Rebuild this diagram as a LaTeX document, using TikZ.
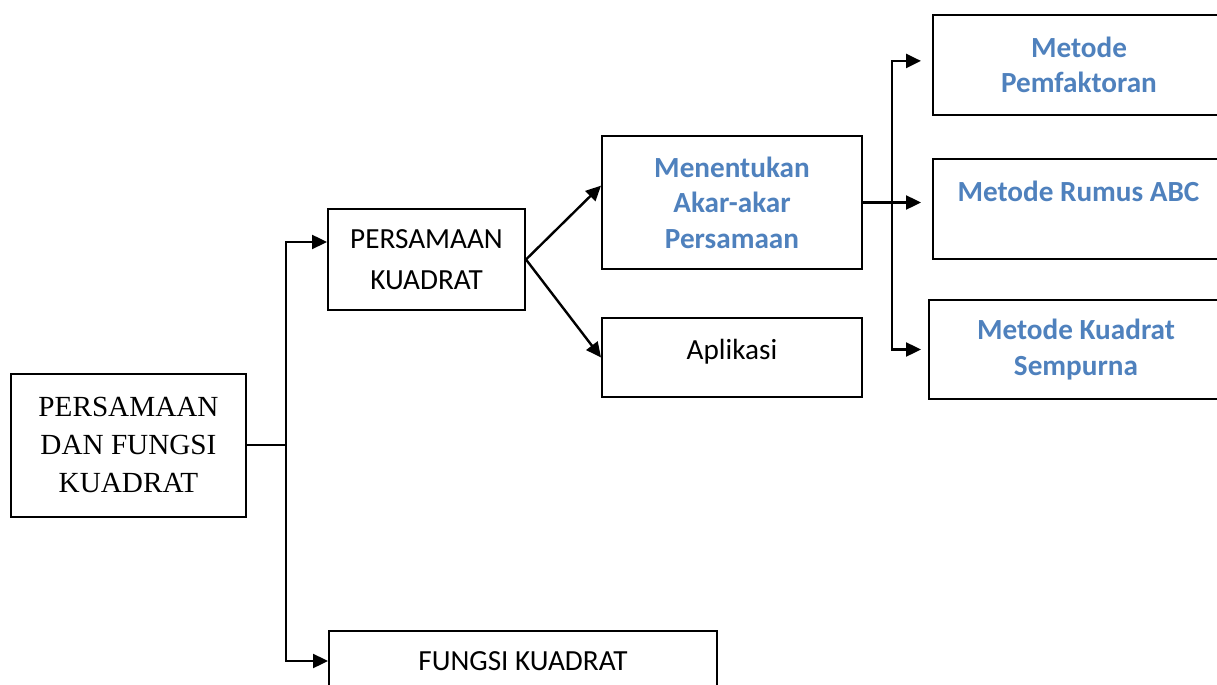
\documentclass[tikz,border=0pt]{standalone}
\usepackage{fontspec}
\setmainfont{Liberation Serif}
\newfontfamily\calibri{Carlito}
\usetikzlibrary{calc,arrows.meta}
\definecolor{akcent}{HTML}{4F81BD}
\tikzset{
	kotak/.style={draw, line width=1pt, inner sep=0pt, align=center},
	hitam/.style={kotak, font=\calibri\fontsize{14.6}{20.5}\selectfont},
	biru/.style={kotak, text=akcent, font=\calibri\bfseries\fontsize{14.6}{17.8}\selectfont},
	garis/.style={line width=1.2pt},
	panah/.style={garis, -{Triangle[length=7.5pt,width=7pt]}}
}

\begin{document}
\begin{tikzpicture}[x=0.5pt,y=-0.5pt]
			%%%%% START %%%%%
			
			\useasboundingbox (0,0) rectangle (1217,685);
			
			\node[kotak, minimum width=117.5pt, minimum height=71.5pt, font=\fontsize{14.6}{19}\selectfont] (root) at (128.5, 445) {PERSAMAAN\\DAN FUNGSI\\KUADRAT};
			
			\node[hitam, minimum width=98.5pt, minimum height=50.5pt] (pk) at (426.5, 259.5) {PERSAMAAN\\KUADRAT};
			\node[hitam, minimum width=194pt, minimum height=30pt] (fungsi) at (523, 661) {FUNGSI KUADRAT};
			
			\node[biru, minimum width=130pt, minimum height=66.5pt] (akar) at (732, 202.5) {Menentukan\\Akar-akar\\Persamaan};
			\node[hitam, minimum width=130pt, minimum height=39.5pt, text depth=8pt] (apl) at (732, 357.5) {Aplikasi};
			
			\node[biru, minimum width=146pt, minimum height=50pt] (pemf) at (1079, 65) {Metode\\Pemfaktoran};
			\node[biru, minimum width=145.5pt, minimum height=50pt] (abc) at (1078.5, 209) {Metode Rumus ABC\\\mbox{}};
			\node[biru, minimum width=147pt, minimum height=49.5pt] (kua) at (1076, 349.5) {Metode Kuadrat\\Sempurna};
			
			% cabang dari akar
			\coordinate (j1) at ($(root.east)+(39,0)$);
			\draw[garis] (root.east) -- (j1);
			\draw[panah] (j1) |- ($(pk.north west)!0.33!(pk.south west)$);
			\draw[panah] (j1) |- (fungsi.west);
			
			\draw[panah] (pk.east) -- ($(akar.north west)!0.375!(akar.south west)$);
			\draw[panah] (pk.east) -- (apl.west);
			
			% cabang metode
			\coordinate (j2) at ($(akar.east)+(29,0)$);
			\draw[garis] (akar.east) -- (j2);
			\draw[panah, shorten >=5.5pt] (j2) |- ($(pemf.north west)!0.46!(pemf.south west)$);
			\draw[panah, shorten >=5.5pt] (j2) -- (j2 -| abc.west);
			\draw[panah, shorten >=3.5pt] (j2) |- (kua.west);
			
			%%%%% END %%%%%
		\end{tikzpicture}
\end{document}
